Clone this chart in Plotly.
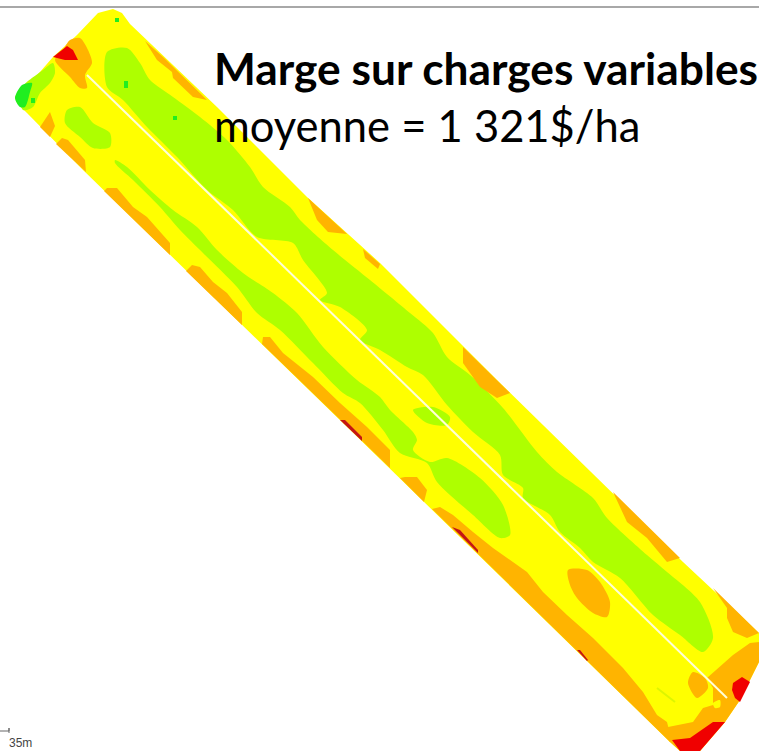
import plotly.graph_objects as go

# colours of the margin classes
YELLOW = "#FFFF00"
LIME = "#AEFF00"
ORANGE = "#FFB400"
RED = "#F00000"
DARK_RED = "#C41414"
GREEN = "#20EE20"

field = [(113,9),(122,13),(130,24),(217,107),(307,197),(380,263),(500,383),(683,562),(759,633),(759,662),(740,700),(725,722),(700,751),
         (680,751),(670,742),(577,651),(380,459),(200,284),(83,170),(27,113),(17,103),(15,97),(20,88),(33,80),(53,57),(77,35),(98,13)]

lime_main = [(107,52),(127,48),(140,63),(150,80),(173,97),(200,117),(227,140),(250,167),(263,187),(290,207),(300,220),(333,250),(370,280),(410,313),
             (433,333),(447,357),(470,375),(503,408),(537,452),(557,472),(593,498),(607,518),(647,555),(667,572),(700,602),(713,638),(703,652),
             (680,635),(653,615),(620,578),(593,562),(580,548),(560,532),(550,515),(523,498),(523,488),(503,475),(500,455),(473,432),(447,405),(423,375),
             (407,367),(380,350),(360,340),(367,330),(340,307),(320,300),(327,293),(303,260),(293,243),(257,237),(233,210),(207,190),(177,157),(147,127),(123,100),(107,87)]
lime_island = [(413,410),(433,407),(450,417),(447,425),(427,423)]
lime_corner = [(20,90),(43,70),(53,63),(55,73),(50,83),(40,93),(33,107),(23,110)]
lime_small = [(67,110),(80,107),(93,123),(110,133),(110,147),(93,148),(80,137),(65,123)]
lime_south = [(115,160),(127,167),(150,190),(173,210),(197,227),(217,250),(243,273),(273,293),(297,313),(323,347),(357,380),(380,397),(390,410),
              (413,432),(417,440),(413,450),(430,462),(447,458),(480,478),(503,505),(510,535),(500,538),(473,515),(437,482),(427,463),(400,453),
              (383,430),(360,403),(343,393),(313,363),(280,330),(257,313),(237,287),(203,253),(180,230),(160,207),(133,180),(115,163)]

orange_top = [(70,40),(80,38),(88,50),(92,63),(85,75),(87,88),(80,88),(70,77),(55,60),(63,50)]
orange_ne1 = [(145,41),(163,57),(207,100),(193,97),(173,78),(172,72),(157,60)]
orange_ne2 = [(308,198),(347,234),(328,232),(317,220)]
orange_ne3 = [(363,249),(380,264),(378,269),(365,258)]
orange_ne4 = [(463,347),(510,393),(497,398),(480,387),(463,363)]
orange_ne5 = [(613,492),(680,558),(667,562),(647,538),(627,522)]
orange_ne6 = [(713,588),(759,633),(747,638),(733,632),(727,618),(727,608)]
orange_s1 = [(40,127),(50,112),(55,126),(50,137)]
orange_s2 = [(56,144),(62,138),(68,140),(85,160),(86,172)]
orange_s3 = [(104,191),(107,188),(117,188),(133,207),(147,217),(170,243),(170,255)]
orange_s4 = [(186,271),(192,265),(200,267),(213,282),(227,293),(242,312),(242,325)]
orange_s5 = [(262,344),(263,337),(270,337),(283,353),(313,377),(340,403),(367,427),(390,450),(390,468)]
orange_s6 = [(400,478),(405,477),(417,477),(427,490),(424,502)]
orange_s7 = [(432,509),(440,507),(453,515),(473,532),(493,548),(527,572),(543,592),(567,615),(593,638),(623,668),(643,692),(657,715),(667,722),
             (672,742),(670,742),(577,651)]
orange_end = [(707,678),(733,655),(750,643),(759,642),(759,662),(740,700),(725,722),(700,751),(680,751),(670,742),(663,728),(693,722),(703,708),(713,705),(713,688)]
orange_blob = [(568,570),(587,570),(600,582),(610,602),(607,617),(593,613),(577,598),(570,585)]
orange_spot = [(693,672),(705,678),(708,688),(697,698),(688,683)]
yellow_dot = [(713,703),(720,700),(720,707),(715,708)]

red_top = [(53,57),(67,46),(73,50),(78,60),(65,60)]
red_end = [(733,683),(742,677),(750,682),(740,702),(735,698),(732,690)]
red_bottom = [(672,740),(690,738),(713,722),(725,722),(700,751),(680,751)]
dark_1 = [(340,420),(345,420),(362,437),(362,441)]
dark_2 = [(452,527),(460,530),(478,550),(478,553)]
dark_3 = [(577,650),(580,650),(588,660),(587,661)]

green_corner = [(15,98),(22,85),(32,83),(30,92),(25,107),(20,107)]
green_dot1 = [(124,81),(128,81),(128,88),(124,88)]
green_dot2 = [(173,116),(177,116),(177,120),(173,120)]
green_dot3 = [(115,18),(119,18),(119,22),(115,22)]
green_dot4 = [(31,98),(35,98),(35,103),(31,103)]

track_x = [87, 727]
track_y = [75, 698]
faint_x = [657, 675]
faint_y = [688, 702]
rule_x = [0, 759]
rule_y = [7, 7]
scale_x = [0, 9, 9, 9]
scale_y = [731, 731, 728, 733]

# (points, colour, smooth the outline) - zones against the field edge stay straight
zones = [
    (field, YELLOW, False),
    (lime_main, LIME, True), (lime_island, LIME, True), (lime_corner, LIME, True), (lime_small, LIME, True), (lime_south, LIME, True),
    (orange_top, ORANGE, True), (orange_ne1, ORANGE, False), (orange_ne2, ORANGE, False), (orange_ne3, ORANGE, False), (orange_ne4, ORANGE, False),
    (orange_ne5, ORANGE, False), (orange_ne6, ORANGE, False), (orange_s1, ORANGE, False), (orange_s2, ORANGE, False), (orange_s3, ORANGE, False),
    (orange_s4, ORANGE, False), (orange_s5, ORANGE, False), (orange_s6, ORANGE, False), (orange_s7, ORANGE, False), (orange_end, ORANGE, False),
    (orange_blob, ORANGE, True), (orange_spot, ORANGE, True), (yellow_dot, YELLOW, True),
    (red_top, RED, False), (red_end, RED, False), (red_bottom, RED, False), (dark_1, DARK_RED, False), (dark_2, DARK_RED, False), (dark_3, DARK_RED, False),
    (green_corner, GREEN, True), (green_dot1, GREEN, False), (green_dot2, GREEN, False), (green_dot3, GREEN, False), (green_dot4, GREEN, False),
]

fig = go.Figure()

for pts, colour, smooth in zones:
    xs = [p[0] for p in pts] + [pts[0][0]]
    ys = [p[1] for p in pts] + [pts[0][1]]
    fig.add_trace(go.Scatter(x=xs, y=ys, mode="lines", fill="toself", fillcolor=colour,
                             line=dict(width=0, color=colour, shape="spline" if smooth else "linear", smoothing=0.8),
                             hoverinfo="skip", showlegend=False))

fig.add_trace(go.Scatter(x=track_x, y=track_y, mode="lines", line=dict(color="#FFFFD8", width=2), hoverinfo="skip", showlegend=False))
fig.add_trace(go.Scatter(x=faint_x, y=faint_y, mode="lines", line=dict(color="#DDF500", width=2), hoverinfo="skip", showlegend=False))
fig.add_trace(go.Scatter(x=rule_x, y=rule_y, mode="lines", line=dict(color="#A8A8A8", width=2), hoverinfo="skip", showlegend=False))
fig.add_trace(go.Scatter(x=scale_x, y=scale_y, mode="lines", line=dict(color="#666666", width=1), hoverinfo="skip", showlegend=False))

fig.add_annotation(x=212, y=67, xref="x", yref="y", xanchor="left", yanchor="middle", showarrow=False,
                   text="<b>Marge sur charges variables</b>", font=dict(family="Lato", size=44.3, color="#000000"))
fig.add_annotation(x=212, y=125, xref="x", yref="y", xanchor="left", yanchor="middle", showarrow=False,
                   text="moyenne = 1 321$/ha", font=dict(family="Lato", size=43.5, color="#000000"))
fig.add_annotation(x=7, y=743, xref="x", yref="y", xanchor="left", yanchor="middle", showarrow=False,
                   text="35m", font=dict(family="Liberation Sans", size=12, color="#444444"))

fig.update_layout(width=759, height=751, margin=dict(l=0, r=0, t=0, b=0), paper_bgcolor="white", plot_bgcolor="white",
                  xaxis=dict(range=[0, 759], visible=False),
                  yaxis=dict(range=[751, 0], visible=False))

fig.write_html("out.html", config=dict(displayModeBar=False),
               post_script="document.body.style.margin='0';document.body.style.overflow='hidden';")
